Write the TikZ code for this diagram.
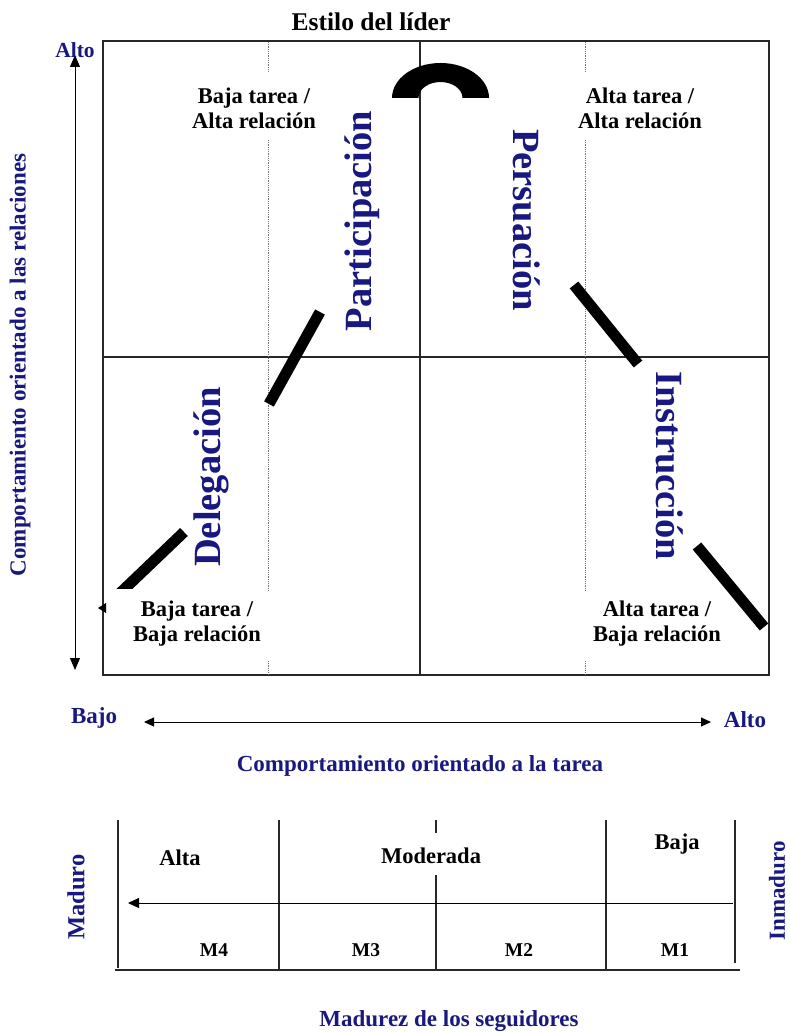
\documentclass[tikz,border=0pt]{standalone}
\usepackage{fontspec}
\setmainfont{Liberation Serif}
\usetikzlibrary{arrows.meta}
\definecolor{navy}{RGB}{24,24,128}
\definecolor{rule}{RGB}{40,40,40}

\begin{document}
\begin{tikzpicture}[x=1pt,y=-1pt,
  lbl/.style={font=\bfseries\fontsize{22.5}{25}\selectfont, align=center, inner sep=0pt},
  title/.style={font=\bfseries\fontsize{25.5}{28}\selectfont, inner sep=0pt},
  axislbl/.style={font=\bfseries\fontsize{23}{26}\selectfont, text=navy, inner sep=0pt},
  biglbl/.style={font=\bfseries\fontsize{38.5}{41}\selectfont, text=navy, inner sep=0pt},
  tbllbl/.style={font=\bfseries\fontsize{22.5}{25}\selectfont, inner sep=0pt},
  mlbl/.style={font=\bfseries\fontsize{19.5}{22}\selectfont, inner sep=0pt},
  frame/.style={line width=1.1pt, draw=rule},
  guide/.style={densely dotted, line width=0.8pt, draw=black!55},
  bar/.style={line width=11pt, line cap=butt},
  axisline/.style={line width=1pt, draw=black}
]
\useasboundingbox (0,0) rectangle (789,1032);

% ---------- quadrant grid ----------
\coordinate (tl) at (103,41);
\coordinate (br) at (769,675);
\draw[frame] (tl) rectangle (br);
\coordinate (vtop) at (420,41);  \coordinate (vbot) at (420,675);
\coordinate (hl) at (103,357);   \coordinate (hr) at (769,357);
\draw[frame] (vtop) -- (vbot);
\draw[frame] (hl) -- (hr);

% dotted guides, broken around the corner labels
\foreach \gx in {268,585}{
  \draw[guide] (\gx,42) -- (\gx,72);
  \draw[guide] (\gx,140) -- (\gx,591);
  \draw[guide] (\gx,661) -- (\gx,674);
}

% ---------- leadership-style curve ----------
\begin{scope}
  \clip (380,40) rectangle (500,98);
  \fill[even odd rule] (440.5,98) ellipse [x radius=48.5, y radius=35]
                       (440.5,98) ellipse [x radius=22, y radius=16];
\end{scope}
\coordinate (pa) at (320,312);  \coordinate (pb) at (269,404);
\draw[bar] (pa) -- (pb);
\coordinate (sa) at (574,285);  \coordinate (sb) at (638,364);
\draw[bar] (sa) -- (sb);
\coordinate (ia) at (697,546);  \coordinate (ib) at (764,627);
\draw[bar] (ia) -- (ib);
\begin{scope}
  \clip (100,500) rectangle (200,588);
  \coordinate (da) at (184,532);  \coordinate (db) at (116,597);
  \draw[bar] (da) -- (db);
\end{scope}
\coordinate (sm1) at (107,608); \coordinate (sm2) at (98,608);
\fill (sm2) -- ++(8,-5) -- ++(0,10) -- cycle;

% ---------- labels inside the grid ----------
\node[title] (ttl) at (371,22) {Estilo del líder};
\node[lbl] (qtl) at (254,108) {Baja tarea /\\Alta relación};
\node[lbl] (qtr) at (640,108) {Alta tarea /\\Alta relación};
\node[lbl] (qbl) at (197,624) {Baja tarea /\\Baja relación};
\node[lbl] (qbr) at (657,624) {Alta tarea /\\Baja relación};

\node[biglbl, rotate=90]  (part) at (362,221) {Participación};
\node[biglbl, rotate=-90] (pers) at (527,220) {Persuación};
\node[biglbl, rotate=90]  (dele) at (211,477) {Delegación};
\node[biglbl, rotate=-90] (inst) at (670,466) {Instrucción};

% ---------- relationship axis ----------
\coordinate (ya) at (75,55);  \coordinate (yb) at (75,670);
\draw[axisline, {Triangle[length=12pt,width=10pt]}-{Triangle[length=12pt,width=10pt]}] (ya) -- (yb);
\node[axislbl, font=\bfseries\fontsize{21.5}{24}\selectfont] (yalto) at (75,50) {Alto};
\node[axislbl, rotate=90] (ylbl) at (20,365) {Comportamiento orientado a las relaciones};

% ---------- task axis ----------
\node[axislbl] (xbajo) at (94,718) {Bajo};
\node[axislbl] (xalto) at (745,720) {Alto};
\coordinate (xa) at (144,722);  \coordinate (xb) at (711,722);
\draw[axisline, {Triangle[length=10pt,width=9pt]}-{Triangle[length=10pt,width=9pt]}] (xa) -- (xb);
\node[axislbl] (xlbl) at (420,766) {Comportamiento orientado a la tarea};

% ---------- maturity scale ----------
\draw[frame] (118,820) -- (118,968);
\draw[frame] (115,970) -- (740,970);
\draw[frame] (279,820) -- (279,970);
\draw[frame] (436,820) -- (436,833);
\draw[frame] (436,875) -- (436,970);
\draw[frame] (606,820) -- (606,970);
\draw[frame] (735,820) -- (735,963);
\coordinate (ma) at (733,903);  \coordinate (mb) at (128,903);
\draw[axisline, -{Triangle[length=11pt,width=10pt]}] (ma) -- (mb);

\node[tbllbl] (alta) at (180,858) {Alta};
\node[tbllbl] (mod) at (431,856) {Moderada};
\node[tbllbl] (baja) at (677,844) {Baja};
\node[mlbl] (m4) at (214,950) {M4};
\node[mlbl] (m3) at (366,950) {M3};
\node[mlbl] (m2) at (519,950) {M2};
\node[mlbl] (m1) at (675,950) {M1};

\node[axislbl, rotate=90, font=\bfseries\fontsize{24.5}{27}\selectfont] (mad) at (76,897) {Maduro};
\node[axislbl, rotate=90] (inm) at (777,891) {Inmaduro};
\node[axislbl] (mlbl) at (449,1021) {Madurez de los seguidores};
\end{tikzpicture}
\end{document}
